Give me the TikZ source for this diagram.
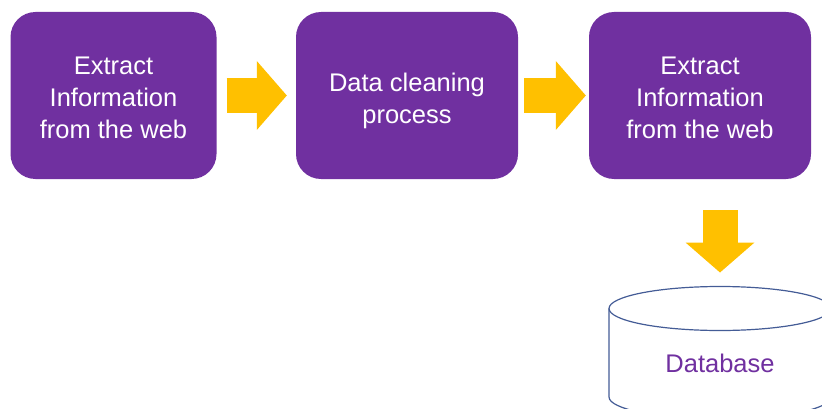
\documentclass[tikz,border=0pt]{standalone}
\usepackage{fontspec}
\setmainfont{Liberation Sans}
\usetikzlibrary{arrows.meta}
\definecolor{boxpurple}{RGB}{112,48,160}
\definecolor{arrowyellow}{RGB}{255,192,0}
\definecolor{dbblue}{RGB}{68,92,150}

\begin{document}
\begin{tikzpicture}[x = 1pt, y = -1pt,
	stage/.style = {fill = boxpurple, text = white, rounded corners = 25pt, minimum height = 167pt, align = center, font = \fontsize{25.5}{32}\selectfont},
	blockarrow/.style = {arrowyellow, line width = 35pt, -{Triangle[length = 30pt, width = 69pt, line width = 0pt]}}]
		\useasboundingbox (0, 0) rectangle (822, 409);
		\clip (0, 0) rectangle (822, 409);
		\node[stage, minimum width = 206pt] (extract) at (113.5, 95.5) {\rule{0pt}{23pt}Extract\\Information\\from the web};
		\node[stage, minimum width = 222pt] (cleaning) at (407, 95.5) {\rule{0pt}{28.5pt}Data cleaning\\process};
		\node[stage, minimum width = 222pt] (load) at (700, 95.5) {\rule{0pt}{23pt}Extract\\Information\\from the web};
		% database cylinder
		\coordinate (dbtop) at (720, 286.5);
		\draw[dbblue, line width = 1.2pt, fill = white] (609, 308.5) -- (609, 397) arc[start angle = 180, end angle = 360, x radius = 111pt, y radius = 22pt] -- (831, 308.5);
		\draw[dbblue, line width = 1.2pt] (720, 308.5) ellipse [x radius = 111pt, y radius = 22pt];
		\node[text = boxpurple, font = \fontsize{25.5}{32}\selectfont] (database) at (720, 363) {Database};
		\draw[blockarrow, shorten < = 10pt, shorten > = 9pt] (extract) -- (cleaning);
		\draw[blockarrow, shorten < = 6pt, shorten > = 3pt] (cleaning) -- (load);
		\draw[blockarrow, shorten < = 31pt, shorten > = 14pt] (load.south -| dbtop) -- (dbtop);
\end{tikzpicture}
\end{document}
